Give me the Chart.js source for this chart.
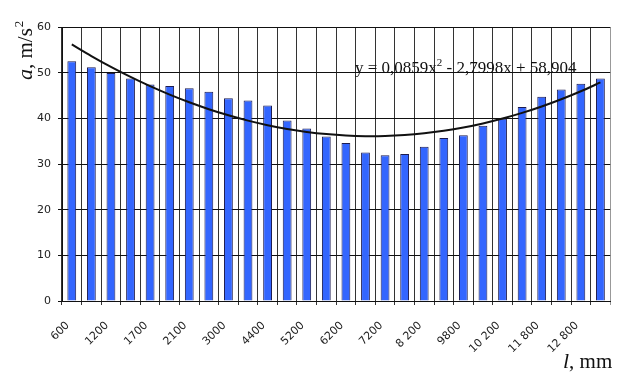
<!DOCTYPE html>
<html>
<head>
<meta charset="utf-8">
<script src="https://cdn.jsdelivr.net/npm/chart.js@4.4.1/dist/chart.umd.min.js"></script>
<style>
  html, body { margin: 0; padding: 0; background: #fff; }
  #wrap { width: 624px; height: 374px; }
</style>
</head>
<body>
<div id="wrap"><canvas id="accelChart"></canvas></div>
<script>
// pipe lengths, mm (only every other one is labelled)
const lengths = [
	"600", "", "1200", "", "1700", "", "2100", "", "3000", "", "4400", "", "5200", "",
	"6200", "", "7200", "", "8 200", "", "9800", "", "10 200", "", "11 800", "", "12 800", "",
];
// measured acceleration, m/s^2
const accel = [
	52.5, 51.2, 49.9, 48.7, 47.4, 47.1, 46.6, 45.8, 44.4, 43.9, 42.8, 39.5, 37.8, 36.0,
	34.6, 32.5, 31.9, 32.2, 33.8, 35.7, 36.3, 38.4, 39.9, 42.5, 44.7, 46.3, 47.6, 48.7,
];
const yTicks = [0, 10, 20, 30, 40, 50, 60];
// polynomial trend: y = a*x^2 + b*x + c, x = 1..n
const trendCoef = [0.0859, -2.7998, 58.904];

const trend = accel.map(function (v, i) {
	let x = i + 1;
	return trendCoef[0] * x * x + trendCoef[1] * x + trendCoef[2];
});

const serif = "'Liberation Serif', 'Times New Roman', serif";

const captions = {
	id: "captions",
	afterDraw(chart) {
		const ctx = chart.ctx;
		ctx.save();
		ctx.fillStyle = "#111";
		ctx.textBaseline = "alphabetic";
		ctx.textAlign = "left";

		// y axis title, rotated
		ctx.save();
		ctx.translate(32, 80);
		ctx.rotate(-Math.PI / 2);
		let x = 0;
		ctx.font = "italic 22px " + serif;
		ctx.fillText("a", x, 0);
		x += ctx.measureText("a").width;
		ctx.font = "21px " + serif;
		ctx.fillText(", m/s", x, 0);
		x += ctx.measureText(", m/s").width;
		ctx.font = "13px " + serif;
		ctx.fillText("2", x + 1, -9);
		ctx.restore();

		// x axis title
		x = 563;
		ctx.font = "italic 22px " + serif;
		ctx.fillText("l", x, 368);
		x += ctx.measureText("l").width;
		ctx.font = "21px " + serif;
		ctx.fillText(", mm", x, 368);

		// trend equation
		x = 355;
		ctx.font = "17px " + serif;
		ctx.fillText("y = 0,0859x", x, 73);
		x += ctx.measureText("y = 0,0859x").width;
		ctx.font = "11px " + serif;
		ctx.fillText("2", x, 66);
		x += ctx.measureText("2").width;
		ctx.font = "17px " + serif;
		ctx.fillText(" - 2,7998x + 58,904", x, 73);
		ctx.restore();
	},
};

var accelChart = new Chart(document.getElementById("accelChart"), {
	data: {
		labels: lengths,
		datasets: [
			{
				type: "line",
				data: trend,
				borderColor: "#111",
				borderWidth: 2,
				pointRadius: 0,
				tension: 0.3,
				order: 0,
			},
			{
				type: "bar",
				data: accel,
				backgroundColor: "#3366ff",
				borderColor: "#1c1c50",
				borderWidth: 1,
				barPercentage: 0.45,
				categoryPercentage: 1,
				order: 1,
			},
		],
	},
	options: {
		responsive: true,
		maintainAspectRatio: false,
		animation: false,
		layout: { padding: { top: 27, right: 13, left: 0, bottom: 0 } },
		plugins: {
			legend: { display: false },
			tooltip: { enabled: false },
		},
		scales: {
			x: {
				afterFit: function (scale) {
					scale.height = 73;
				},
				grid: {
					offset: true,
					color: function (c) {
						return c.type === "tick" ? "#333" : "#999";
					},
					lineWidth: 1,
					tickLength: 4,
				},
				border: { color: "#111" },
				ticks: {
					autoSkip: false,
					minRotation: 45,
					maxRotation: 45,
					padding: 14,
					labelOffset: -4,
					color: "#222",
					font: { family: "'DejaVu Sans', Tahoma, sans-serif", size: 11 },
				},
			},
			y: {
				min: 0,
				max: 60,
				afterFit: function (scale) {
					scale.width = 62;
				},
				afterBuildTicks: function (scale) {
					scale.ticks = yTicks.map(function (v) {
						return { value: v };
					});
				},
				grid: { color: "#111", lineWidth: 1, tickLength: 4 },
				border: { color: "#111" },
				ticks: {
					padding: 7,
					color: "#222",
					font: { family: "'DejaVu Sans', Tahoma, sans-serif", size: 11 },
				},
			},
		},
	},
	plugins: [captions],
});
</script>
</body>
</html>
